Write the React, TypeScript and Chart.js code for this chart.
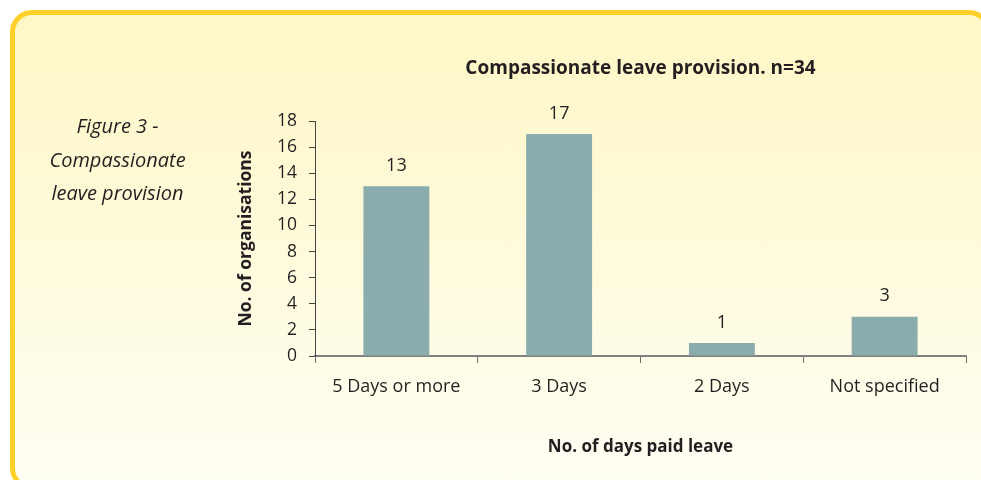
import React, { useEffect, useRef } from "react";
import { Chart, registerables } from "chart.js";

Chart.register(...registerables);

const categories = ["5 Days or more", "3 Days", "2 Days", "Not specified"];
const organisations = [13, 17, 1, 3];
const yMin = 0;
const yMax = 18;
const yStep = 2;
const chartTitle = "Compassionate leave provision. n=34";
const yAxisTitle = "No. of organisations";
const xAxisTitle = "No. of days paid leave";
const figureCaption = ["Figure 3 -", "Compassionate", "leave provision"];

const FONT = "'Open Sans', 'Noto Sans', sans-serif";
const TEXT = "#231f20";

const valueLabels = {
  id: "valueLabels",
  afterDatasetsDraw(chart: any) {
    const ctx = chart.ctx;
    const meta = chart.getDatasetMeta(0);
    const values = chart.data.datasets[0].data;
    ctx.save();
    ctx.font = `18px ${FONT}`;
    ctx.fillStyle = TEXT;
    ctx.textAlign = "center";
    ctx.textBaseline = "middle";
    meta.data.forEach((bar: any, i: number) => {
      ctx.fillText(String(values[i]), bar.x, bar.y - 20.5);
    });
    ctx.restore();
  },
};

export default function App() {
  const canvasRef = useRef<HTMLCanvasElement | null>(null);

  useEffect(() => {
    const canvas = canvasRef.current;
    if (!canvas) return;
    const chart = new Chart(canvas, {
      type: "bar",
      data: {
        labels: categories,
        datasets: [
          {
            data: organisations,
            backgroundColor: "#8aacad",
            barPercentage: 0.405,
            categoryPercentage: 1,
          },
        ],
      },
      options: {
        animation: false,
        responsive: false,
        devicePixelRatio: 1,
        layout: { padding: { left: 0, right: 15, top: 0, bottom: 0 } },
        plugins: {
          legend: { display: false },
          tooltip: { enabled: false },
          title: {
            display: true,
            text: chartTitle,
            fullSize: false,
            color: TEXT,
            font: { family: FONT, size: 19, weight: "bold" },
            padding: { top: 57.1, bottom: 41.1 },
          },
        },
        scales: {
          x: {
            grid: {
              display: true,
              drawOnChartArea: false,
              drawTicks: true,
              tickLength: 7,
              color: "#6f6f6f",
              offset: true,
            },
            border: { display: true, color: "#808080", width: 2 },
            ticks: {
              color: TEXT,
              font: { family: FONT, size: 18 },
              padding: 13.4,
              maxRotation: 0,
              autoSkip: false,
            },
            title: {
              display: true,
              text: xAxisTitle,
              color: TEXT,
              font: { family: FONT, size: 17, weight: "bold" },
              padding: { top: 0, bottom: 22.8 },
            },
            afterFit: (s: any) => {
              s.height = 124;
            },
          },
          y: {
            min: yMin,
            max: yMax,
            ticks: {
              stepSize: yStep,
              color: TEXT,
              font: { family: FONT, size: 17.5 },
              padding: 12,
            },
            grid: {
              drawOnChartArea: false,
              drawTicks: true,
              tickLength: 6,
              color: "#444",
            },
            border: { display: true, color: "#444", width: 1 },
            title: {
              display: true,
              text: yAxisTitle,
              color: TEXT,
              font: { family: FONT, size: 17.5, weight: "bold" },
              padding: { top: 235.5, bottom: 0 },
            },
            afterFit: (s: any) => {
              s.width = 315;
            },
          },
        },
      } as any,
      plugins: [valueLabels],
    });
    return () => chart.destroy();
  }, []);

  return (
    <div
      style={{
        position: "fixed",
        left: 0,
        top: 0,
        width: 981,
        height: 480,
        overflow: "hidden",
        background: "#ffffff",
      }}
    >
      <div
        style={{
          position: "absolute",
          left: 10,
          top: 10,
          width: 981,
          height: 480,
          boxSizing: "border-box",
          border: "5px solid #ffd02a",
          borderRadius: 22,
          background: "linear-gradient(to bottom, #fef7c6 0%, #fefad9 45%, #fffef4 100%)",
        }}
      />
      <canvas
        ref={canvasRef}
        width={981}
        height={480}
        style={{ position: "absolute", left: 0, top: 0, width: 981, height: 480 }}
      />
      <div
        style={{
          position: "absolute",
          left: 17.5,
          top: 109.2,
          width: 200,
          textAlign: "center",
          fontFamily: FONT,
          fontStyle: "italic",
          fontSize: 20,
          lineHeight: "33.5px",
          color: TEXT,
        }}
      >
        {figureCaption.map((line) => (
          <div key={line}>{line}</div>
        ))}
      </div>
    </div>
  );
}
